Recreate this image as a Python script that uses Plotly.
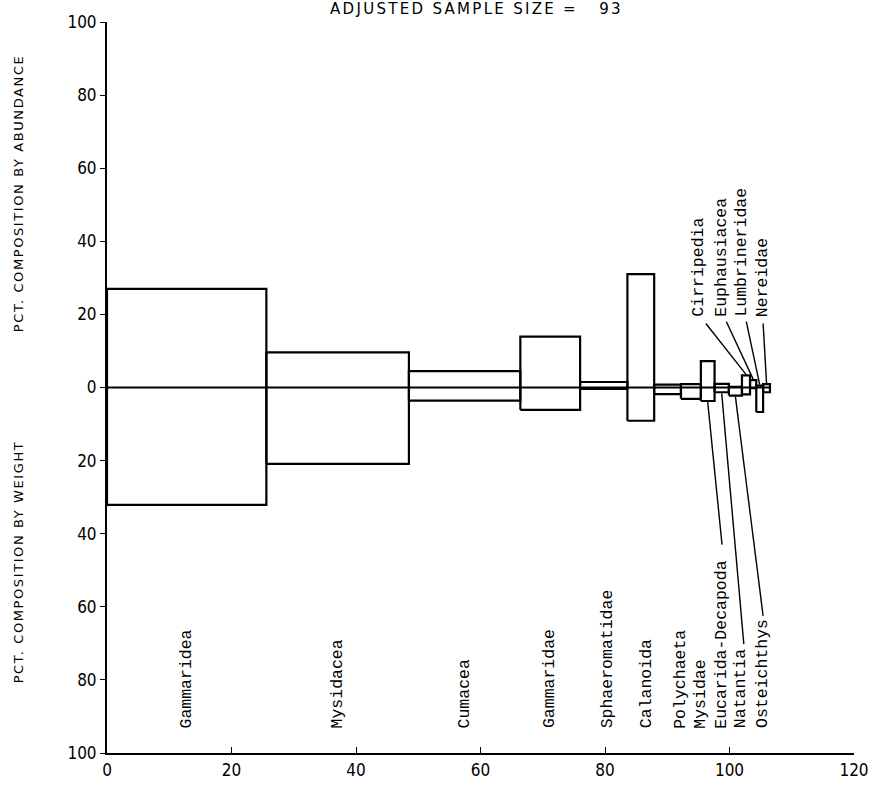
import plotly.graph_objects as go

# ---- data ----
taxa = ["Gammaridea", "Mysidacea", "Cumacea", "Gammaridae", "Sphaeromatidae",
        "Calanoida", "Polychaeta", "Mysidae", "Eucarida-Decapoda", "Natantia",
        "Osteichthys", "Cirripedia", "Euphausiacea", "Lumbrineridae", "Nereidae"]
freq_occ = [25.6, 22.9, 17.9, 9.6, 7.6, 4.3, 4.3, 3.2, 2.2, 2.3, 2.1, 1.3, 1.0, 1.1, 1.1]
pct_abund = [27.0, 9.6, 4.5, 13.9, 1.5, 31.0, 0.8, 0.9, 7.2, 1.0, 0.2, 3.3, 2.0, 0.5, 0.9]
pct_weight = [32.1, 20.9, 3.6, 6.1, 0.4, 9.1, 1.8, 3.1, 3.7, 1.3, 2.2, 1.9, 0.2, 6.7, 1.3]
sample_size = 93

x_ticks = [0, 20, 40, 60, 80, 100, 120]
y_tickvals = [-100, -80, -60, -40, -20, 0, 20, 40, 60, 80, 100]
y_ticktext = ["100", "80", "60", "40", "20", "0", "20", "40", "60", "80", "100"]

# label placement (layout only)
bottom_label_x = {"Sphaeromatidae": 80.4, "Calanoida": 86.8, "Polychaeta": 92.2,
                  "Mysidae": 95.4, "Eucarida-Decapoda": 98.7, "Natantia": 101.9,
                  "Osteichthys": 105.4}
bottom_leader_start = {"Eucarida-Decapoda": (98.8, -43.0), "Natantia": (102.3, -70.2),
                       "Osteichthys": (105.4, -62.5)}
top_label_x = {"Cirripedia": 95.0, "Euphausiacea": 98.7, "Lumbrineridae": 101.9,
               "Nereidae": 105.2}
top_leader_start = {"Cirripedia": (96.2, 17.5), "Euphausiacea": (99.5, 18.0),
                    "Lumbrineridae": (102.7, 18.0), "Nereidae": (105.4, 17.5)}

# ---- geometry from the data ----
lefts, rights = [], []
acc = 0.0
for f in freq_occ:
    lefts.append(acc)
    acc += f
    rights.append(acc)
total = acc

bx, by = [], []
for l, r, a, w in zip(lefts, rights, pct_abund, pct_weight):
    bx += [l, l, r, r, l, None]
    by += [-w, a, a, -w, -w, None]

fig = go.Figure()
fig.add_trace(go.Scatter(x=[0, total], y=[0, 0], mode="lines",
                         line=dict(color="black", width=2), hoverinfo="skip"))
fig.add_trace(go.Scatter(x=bx, y=by, mode="lines",
                         line=dict(color="black", width=2.2), hoverinfo="skip"))

# leader lines
lx, ly = [], []
for name, (sx, sy) in bottom_leader_start.items():
    i = taxa.index(name)
    cx = (lefts[i] + rights[i]) / 2
    lx += [sx, cx, None]
    ly += [sy, -pct_weight[i] - 0.3, None]
for name, (sx, sy) in top_leader_start.items():
    i = taxa.index(name)
    cx = (lefts[i] + rights[i]) / 2
    lx += [sx, cx, None]
    ly += [sy, pct_abund[i] + 0.3, None]
fig.add_trace(go.Scatter(x=lx, y=ly, mode="lines",
                         line=dict(color="black", width=1.4), hoverinfo="skip"))

annotations = []
label_font = dict(family="Liberation Mono, DejaVu Sans Mono, monospace", size=16.5, color="black")
for i, name in enumerate(taxa):
    if name in top_label_x:
        annotations.append(dict(x=top_label_x[name], y=18.8, xref="x", yref="y",
                                text=name, textangle=-90, showarrow=False,
                                xanchor="center", yanchor="bottom", font=label_font))
    else:
        x = bottom_label_x.get(name, (lefts[i] + rights[i]) / 2)
        annotations.append(dict(x=x, y=-93.8, xref="x", yref="y",
                                text=name, textangle=-90, showarrow=False,
                                xanchor="center", yanchor="bottom", font=label_font))

title_font = dict(family="DejaVu Sans, sans-serif", size=15, color="black")
ytitle_font = dict(family="DejaVu Sans, sans-serif", size=13, color="black")


def spaced(txt, ls):
    return '<span style="letter-spacing:%.1fpx">%s</span>' % (ls, txt)


annotations.append(dict(x=0.495, y=1.0174, xref="paper", yref="paper",
                        text=spaced("ADJUSTED SAMPLE SIZE =&nbsp;&nbsp;&nbsp;%d" % sample_size, 2.3),
                        showarrow=False, xanchor="center", yanchor="middle", font=title_font))
annotations.append(dict(x=-0.119, y=0.766, xref="paper", yref="paper",
                        text=spaced("PCT. COMPOSITION BY ABUNDANCE", 1.6), textangle=-90,
                        showarrow=False, xanchor="center", yanchor="middle", font=ytitle_font))
annotations.append(dict(x=-0.119, y=0.261, xref="paper", yref="paper",
                        text=spaced("PCT. COMPOSITION BY WEIGHT", 1.6), textangle=-90,
                        showarrow=False, xanchor="center", yanchor="middle", font=ytitle_font))

tick_font = dict(family="DejaVu Sans Condensed, DejaVu Sans, sans-serif", size=17, color="black")
fig.update_layout(
    width=881, height=792,
    margin=dict(l=107, r=19, t=17, b=28),
    paper_bgcolor="white", plot_bgcolor="white",
    showlegend=False,
    annotations=annotations,
    xaxis=dict(range=[0, 120], tickvals=x_ticks, ticks="inside", ticklen=6,
               tickcolor="black", showline=True, linecolor="black", linewidth=2,
               showgrid=False, zeroline=False, tickfont=tick_font, ticklabelstandoff=1),
    yaxis=dict(range=[-100, 100], tickvals=y_tickvals, ticktext=y_ticktext,
               ticks="outside", ticklen=5, tickcolor="black", showline=True,
               linecolor="black", linewidth=2, showgrid=False, zeroline=False,
               tickfont=tick_font),
)

fig.write_html("out.html", config={"displayModeBar": False},
               post_script="document.body.style.margin='0';document.body.style.overflow='hidden';")
